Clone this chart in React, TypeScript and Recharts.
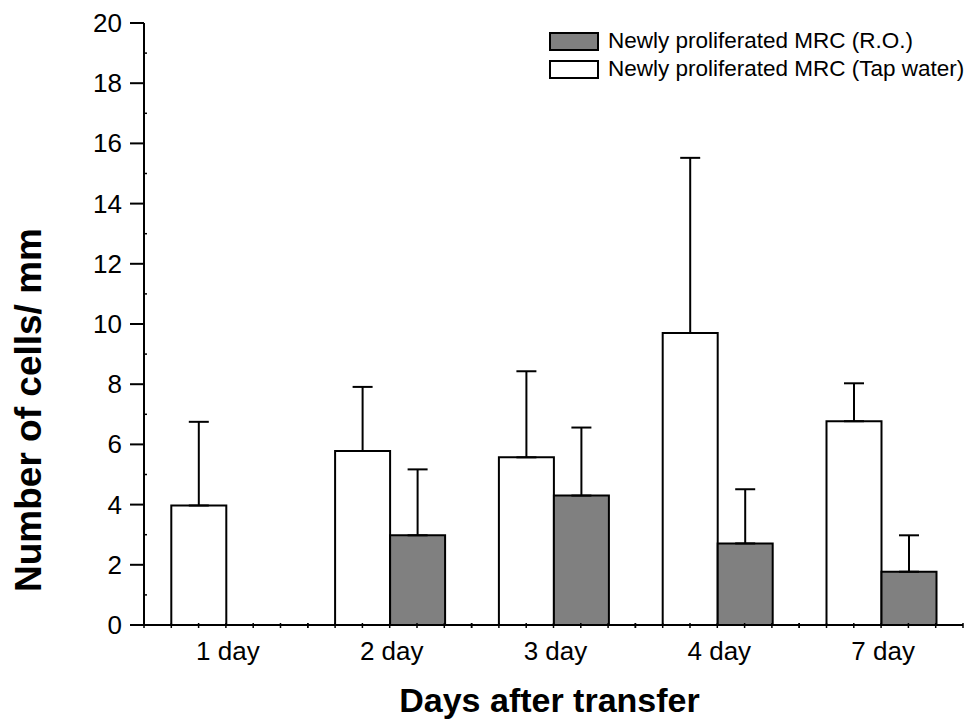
import React from 'react';
import { BarChart, Bar, XAxis, YAxis, ErrorBar, Legend, Label } from 'recharts';

// values (mean, upper SD)
const days = ['1 day', '2 day', '3 day', '4 day', '7 day'];
const tapWater = [3.97, 5.78, 5.57, 9.7, 6.77];
const tapWaterSd = [2.78, 2.13, 2.86, 5.82, 1.26];
const ro = [null, 2.98, 4.3, 2.71, 1.77];
const roSd = [null, 2.19, 2.26, 1.8, 1.21];
const yTicks = [0, 1, 2, 3, 4, 5, 6, 7, 8, 9, 10, 11, 12, 13, 14, 15, 16, 17, 18, 19, 20];

const legendItems = [
  { label: 'Newly proliferated MRC (R.O.)', fill: '#808080' },
  { label: 'Newly proliferated MRC (Tap water)', fill: '#ffffff' },
];

const W = 969;
const H = 724;
const MARGIN = { top: 23, right: 6, left: 0, bottom: 0 };
const Y_AXIS_W = 144;
const X_AXIS_H = 99;
const FONT = '"Liberation Sans", Arial, Helvetica, sans-serif';

const data = days.map((day, i) => ({
  day,
  tap: tapWater[i],
  tapErr: [0, tapWaterSd[i]],
  ro: ro[i],
  roErr: ro[i] == null ? null : [0, roSd[i] as number],
}));

const bandWidth = (W - MARGIN.left - MARGIN.right - Y_AXIS_W) / days.length;

function DayTick({ x, y, payload }: any) {
  // six small ticks per category, one at every half bar
  const minor = [-3, -2, -1, 0, 1, 2, 3].map((k) => x + (k * bandWidth) / 6);
  return (
    <g>
      {minor.map((mx, i) => (
        <line key={i} x1={mx} x2={mx} y1={y - 2} y2={y + 3} stroke="#000" strokeWidth={1.5} />
      ))}
      <text x={x + 2} y={y + 35} textAnchor="middle" fontSize={26} fontFamily={FONT} fill="#000">
        {payload.value}
      </text>
    </g>
  );
}

function CountTick({ x, y, payload }: any) {
  const v = payload.value;
  if (v % 2 === 1) {
    return <line x1={x} x2={x + 3} y1={y} y2={y} stroke="#000" strokeWidth={1.5} />;
  }
  return (
    <g>
      <line x1={x - 14} x2={x} y1={y} y2={y} stroke="#000" strokeWidth={2} />
      <text x={x - 22} y={y + 9} textAnchor="end" fontSize={26} fontFamily={FONT} fill="#000">
        {v}
      </text>
    </g>
  );
}

function XTitle({ viewBox }: any) {
  return (
    <text
      x={viewBox.x + viewBox.width / 2 - 4}
      y={viewBox.y + 87}
      textAnchor="middle"
      fontSize={34}
      fontWeight="bold"
      fontFamily={FONT}
      fill="#000"
    >
      Days after transfer
    </text>
  );
}

function YTitle({ viewBox }: any) {
  const cx = 28;
  const cy = viewBox.y + 387;
  return (
    <text
      x={cx}
      y={cy}
      transform={`rotate(-90, ${cx}, ${cy})`}
      textAnchor="middle"
      dominantBaseline="central"
      fontSize={37}
      fontWeight="bold"
      fontFamily={FONT}
      fill="#000"
    >
      Number of cells/ mm
    </text>
  );
}

function LegendBox() {
  return (
    <div style={{ fontFamily: FONT, fontSize: 22.5, color: '#000' }}>
      {legendItems.map((item) => (
        <div key={item.label} style={{ display: 'flex', alignItems: 'center', height: 28 }}>
          <span
            style={{
              width: 50,
              height: 19,
              boxSizing: 'border-box',
              border: '2px solid #000',
              background: item.fill,
              display: 'inline-block',
            }}
          />
          <span style={{ marginLeft: 9, whiteSpace: 'nowrap' }}>{item.label}</span>
        </div>
      ))}
    </div>
  );
}

export default function App() {
  return (
    <div style={{ position: 'absolute', left: 0, top: 0, width: W, height: H, background: '#fff' }}>
      <BarChart
        width={W}
        height={H}
        data={data}
        margin={MARGIN}
        barCategoryGap="16.667%"
        barGap={0}
      >
        <XAxis
          dataKey="day"
          height={X_AXIS_H}
          tickSize={0}
          tickMargin={0}
          tickLine={false}
          interval={0}
          axisLine={{ stroke: '#000', strokeWidth: 2 }}
          tick={<DayTick />}
        >
          <Label content={<XTitle />} />
        </XAxis>
        <YAxis
          type="number"
          domain={[0, 20]}
          ticks={yTicks}
          interval={0}
          width={Y_AXIS_W}
          tickSize={0}
          tickMargin={0}
          tickLine={false}
          axisLine={{ stroke: '#000', strokeWidth: 2 }}
          tick={<CountTick />}
        >
          <Label content={<YTitle />} />
        </YAxis>
        <Legend
          layout="vertical"
          align="center"
          verticalAlign="middle"
          content={<LegendBox />}
          wrapperStyle={{ position: 'absolute', top: 27, left: 549, width: 420 }}
        />
        <Bar dataKey="tap" fill="#ffffff" stroke="#000" strokeWidth={2} isAnimationActive={false}>
          <ErrorBar dataKey="tapErr" width={10} stroke="#000" strokeWidth={2} direction="y" />
        </Bar>
        <Bar dataKey="ro" fill="#808080" stroke="#000" strokeWidth={2} isAnimationActive={false}>
          <ErrorBar dataKey="roErr" width={10} stroke="#000" strokeWidth={2} direction="y" />
        </Bar>
      </BarChart>
    </div>
  );
}
